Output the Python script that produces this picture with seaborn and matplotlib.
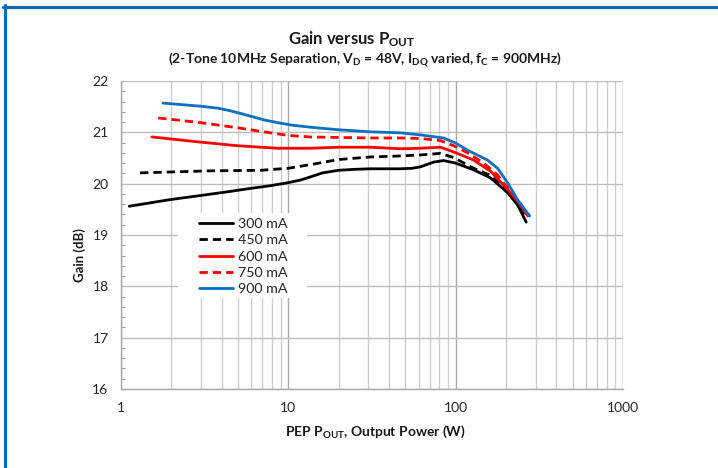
import matplotlib
matplotlib.use("Agg")
import matplotlib.pyplot as plt
from matplotlib.lines import Line2D
from matplotlib.patches import Rectangle
from matplotlib.ticker import FixedLocator, FixedFormatter, NullFormatter, MultipleLocator
import numpy as np
import pandas as pd
import seaborn as sns

# Gain (dB) against PEP output power (W), one curve per quiescent current
p_300 = [1.12, 1.97, 3.0, 4.3, 6.0, 7.8, 10.0, 11.8, 13.5, 16.0, 19.9, 25, 31, 46.9, 55, 61.9, 73.8, 84.7, 100, 128, 162, 205, 235, 264]
g_300 = [19.56, 19.69, 19.77, 19.84, 19.91, 19.96, 20.02, 20.07, 20.13, 20.21, 20.26, 20.28, 20.29, 20.29, 20.30, 20.33, 20.42, 20.45, 20.40, 20.27, 20.11, 19.82, 19.58, 19.25]

p_450 = [1.30, 3.41, 6.8, 10.0, 13.5, 19.9, 31, 46.9, 61.9, 81, 97, 128, 162, 205, 235, 262]
g_450 = [20.21, 20.25, 20.26, 20.30, 20.37, 20.47, 20.52, 20.54, 20.56, 20.59, 20.51, 20.30, 20.16, 19.84, 19.62, 19.33]

p_600 = [1.53, 2.97, 4.95, 8.6, 13.5, 19.9, 31, 46.9, 61.6, 81, 97, 128, 162, 205, 240, 270]
g_600 = [20.91, 20.81, 20.74, 20.69, 20.69, 20.71, 20.71, 20.68, 20.69, 20.71, 20.62, 20.46, 20.24, 19.88, 19.62, 19.37]

p_750 = [1.67, 2.97, 4.95, 7.8, 10.0, 13.5, 31, 46.9, 61.6, 81, 97, 118, 147, 178, 213, 245, 274]
g_750 = [21.28, 21.19, 21.09, 20.99, 20.94, 20.91, 20.89, 20.89, 20.88, 20.84, 20.74, 20.60, 20.40, 20.17, 19.84, 19.60, 19.37]

p_900 = [1.78, 2.97, 3.8, 4.5, 5.3, 6.17, 7.2, 8.6, 10.5, 13.5, 20, 31, 46.9, 61.6, 84.7, 100, 118, 155, 178, 205, 235, 277]
g_900 = [21.57, 21.51, 21.47, 21.42, 21.36, 21.30, 21.24, 21.19, 21.14, 21.10, 21.05, 21.01, 20.99, 20.95, 20.89, 20.79, 20.65, 20.46, 20.30, 20.01, 19.68, 19.37]

series_names = ["300 mA", "450 mA", "600 mA", "750 mA", "900 mA"]
series_power = [p_300, p_450, p_600, p_750, p_900]
series_gain = [g_300, g_450, g_600, g_750, g_900]

x_tick_values = [1, 10, 100, 1000]
x_tick_labels = ["1", "10", "100", "1000"]
y_tick_values = [16, 17, 18, 19, 20, 21, 22]

frames = [pd.DataFrame({"Pout": p, "Gain": g, "Idq": name})
          for name, p, g in zip(series_names, series_power, series_gain)]
df = pd.concat(frames, ignore_index=True)

sns.set_theme(style="white")
plt.rcParams["font.family"] = ["Lato", "DejaVu Sans"]
plt.rcParams["mathtext.default"] = "regular"

palette = {"300 mA": "#000000", "450 mA": "#000000", "600 mA": "#FF0000",
           "750 mA": "#FF0000", "900 mA": "#0A70C0"}
dashes = {"300 mA": "", "450 mA": (3, 1.8), "600 mA": "",
          "750 mA": (3, 1.8), "900 mA": ""}

fig = plt.figure(figsize=(7.18, 4.68), dpi=100)
ax = fig.add_axes([121 / 718, 1 - 389 / 468, 502 / 718, 308 / 468])

sns.lineplot(data=df, x="Pout", y="Gain", hue="Idq", style="Idq",
             palette=palette, dashes=dashes, linewidth=2.0, ax=ax,
             hue_order=series_names, style_order=series_names)

ax.set_xscale("log")
ax.set_xlim(1, 1000)
ax.set_ylim(16, 22)

# log grid: decades darker, intermediate values lighter
minor_x = [m * d for d in (1, 10, 100) for m in range(2, 10)]
ax.xaxis.set_major_locator(FixedLocator(x_tick_values))
ax.xaxis.set_major_formatter(FixedFormatter(x_tick_labels))
ax.xaxis.set_minor_locator(FixedLocator(minor_x))
ax.xaxis.set_minor_formatter(NullFormatter())
ax.yaxis.set_major_locator(FixedLocator(y_tick_values))
ax.yaxis.set_minor_locator(MultipleLocator(0.2))

ax.grid(which="major", axis="x", color="#A8A8A8", linewidth=1.0)
ax.grid(which="minor", axis="x", color="#CFCFCF", linewidth=1.0)
ax.grid(which="major", axis="y", color="#BDBDBD", linewidth=1.0)
ax.set_axisbelow(True)

ax.tick_params(axis="both", which="major", length=0, pad=9,
               labelsize=10, labelcolor="#262626")
ax.tick_params(axis="y", which="minor", left=True, direction="in",
               length=3, width=0.8, color="#A0A0A0")
ax.tick_params(axis="x", which="minor", length=0)

for side in ("top", "right"):
    ax.spines[side].set_visible(False)
for side in ("left", "bottom"):
    ax.spines[side].set_color("#A8A8A8")
    ax.spines[side].set_linewidth(1.0)

ax.set_xlabel("")
ax.set_ylabel("")

# white panel behind the legend, hiding the grid there
ax.add_patch(Rectangle((178 / 718, 1 - 298 / 468), 129 / 718, 85 / 468,
                       transform=fig.transFigure, facecolor="white",
                       edgecolor="none", zorder=1.2))

handles, labels = ax.get_legend_handles_labels()
ax.get_legend().remove()
leg = ax.legend(handles, labels, loc="upper left",
                bbox_to_anchor=(192 / 718, 1 - 211 / 468),
                bbox_transform=fig.transFigure, borderaxespad=0,
                frameon=False, fontsize=10.3, handlelength=2.4,
                handletextpad=0.3, labelspacing=0.3, borderpad=0.5)
for t in leg.get_texts():
    t.set_color("#262626")

fig.text(0.49, 1 - 39 / 468, r"Gain versus P$_{OUT}$", ha="center",
         va="center", fontsize=12, fontweight="bold", color="#1a1a1a")
fig.text(0.508, 1 - 60 / 468,
         r"(2-Tone 10MHz Separation, V$_{D}$ = 48V, I$_{DQ}$ varied, f$_{C}$ = 900MHz)",
         ha="center", va="center", fontsize=10, fontweight="bold", color="#1a1a1a")
fig.text(80 / 718, 1 - 255 / 468, "Gain (dB)", rotation=90, ha="center",
         va="center", fontsize=9.5, fontweight="bold", color="#1a1a1a")
fig.text(375 / 718, 1 - 432 / 468, r"PEP P$_{OUT}$, Output Power (W)",
         ha="center", va="center", fontsize=10, fontweight="bold", color="#1a1a1a")

# page frame in blue along the top and left edges
fig.add_artist(Line2D([4.5 / 718, 4.5 / 718], [0, 1 - 5 / 468],
                      transform=fig.transFigure, color="#0A6EB4", linewidth=2.3))
fig.add_artist(Line2D([3 / 718, 1], [1 - 6.5 / 468, 1 - 6.5 / 468],
                      transform=fig.transFigure, color="#0A6EB4", linewidth=2.3))

fig.savefig("out.png", dpi=100)
